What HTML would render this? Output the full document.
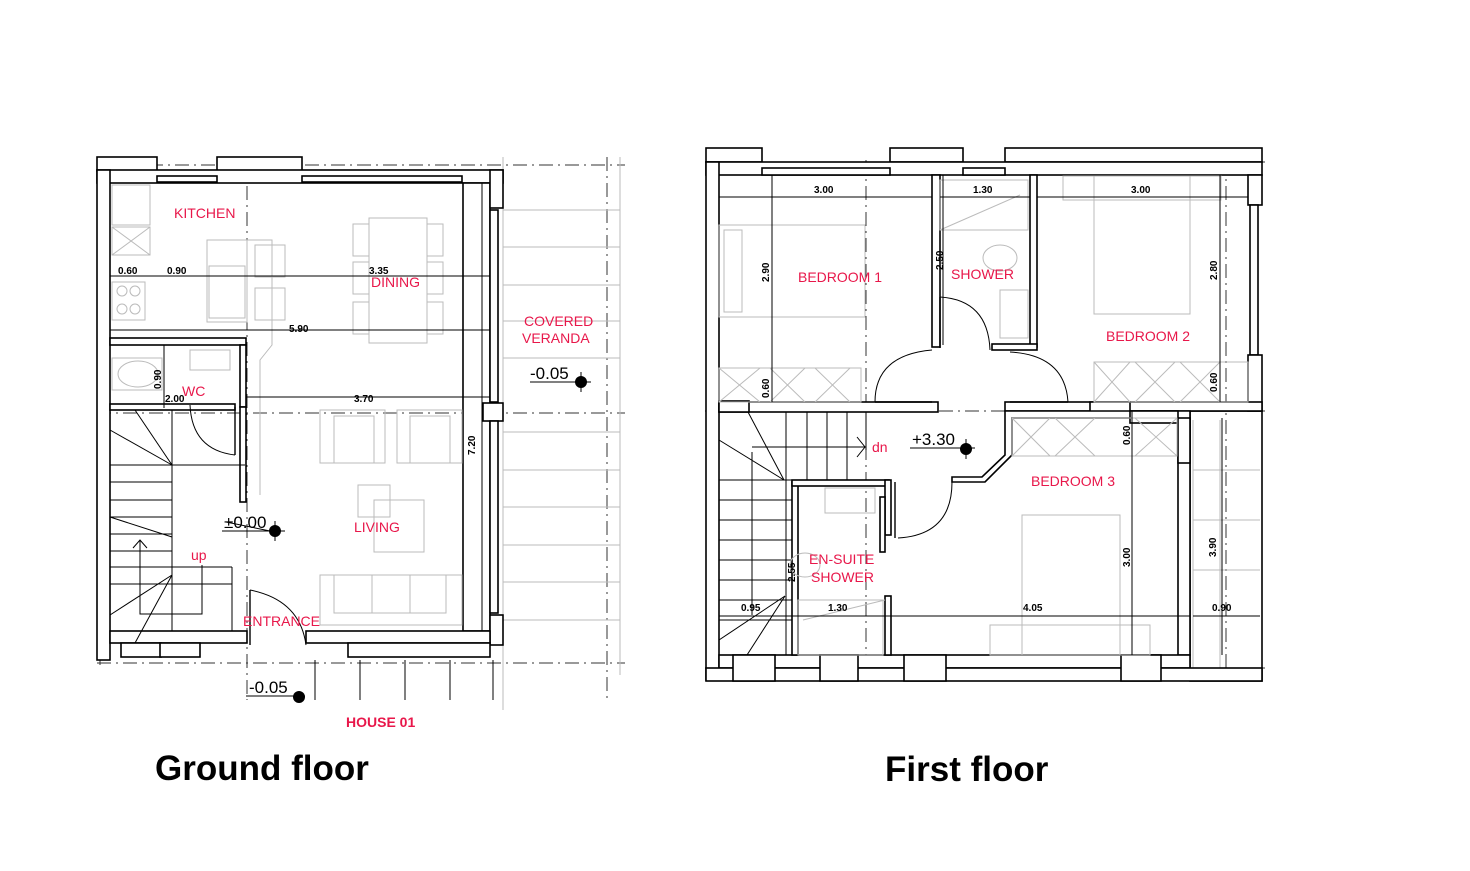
<!DOCTYPE html>
<html><head><meta charset="utf-8"><style>
html,body{margin:0;padding:0;background:#fff;}
svg{display:block}
.w{fill:#fff;stroke:#000;stroke-width:1.6}
.l{stroke:#000;stroke-width:1.4;fill:none}
.t{stroke:#000;stroke-width:1;fill:none}
.g{stroke:#bbb;stroke-width:1;fill:none}
.d{stroke:#333;stroke-width:1;fill:none;stroke-dasharray:14 5 2 5}
.r{fill:#e8174a;font-family:"Liberation Sans",sans-serif;font-size:14px}
.n{fill:#000;font-family:"Liberation Sans",sans-serif;font-size:10px;font-weight:bold}
.lv{fill:#000;font-family:"Liberation Sans",sans-serif;font-size:17px}
</style></head><body>
<svg width="1470" height="871" viewBox="0 0 1470 871" xmlns="http://www.w3.org/2000/svg">
<!-- ================= GROUND FLOOR ================= -->
<!-- dashed grid -->
<line class="d" x1="97" y1="165" x2="625" y2="165"/>
<line class="d" x1="97" y1="413" x2="625" y2="413"/>
<line class="d" x1="97" y1="663" x2="625" y2="663"/>
<line class="d" x1="247" y1="160" x2="247" y2="700"/>
<line class="d" x1="607" y1="157" x2="607" y2="700"/>
<line class="d" x1="100" y1="157" x2="100" y2="670"/>
<!-- veranda grid -->
<g class="g">
<line x1="503" y1="157" x2="503" y2="710"/><line x1="620" y1="157" x2="620" y2="675"/>
<line x1="503" y1="210" x2="620" y2="210"/><line x1="503" y1="247" x2="620" y2="247"/>
<line x1="503" y1="285" x2="620" y2="285"/><line x1="503" y1="321" x2="620" y2="321"/>
<line x1="503" y1="358" x2="620" y2="358"/><line x1="503" y1="432" x2="620" y2="432"/>
<line x1="503" y1="470" x2="620" y2="470"/><line x1="503" y1="507" x2="620" y2="507"/>
<line x1="503" y1="545" x2="620" y2="545"/><line x1="503" y1="582" x2="620" y2="582"/>
<line x1="503" y1="620" x2="620" y2="620"/>
</g>
<!-- walls -->
<rect class="w" x="97" y="157" width="60" height="14"/>
<rect class="w" x="217" y="157" width="85" height="14"/>
<rect class="w" x="97" y="170" width="406" height="13"/>
<rect class="w" x="157" y="176" width="60" height="6"/>
<rect class="w" x="302" y="176" width="160" height="6"/>
<rect class="w" x="97" y="170" width="13" height="490"/>
<rect class="w" x="463" y="183" width="27" height="448"/>
<rect class="w" x="490" y="170" width="13" height="38"/>
<rect class="w" x="490" y="615" width="13" height="30"/>
<rect class="w" x="483" y="403" width="20" height="18"/>
<rect class="w" x="490" y="210" width="8" height="192"/>
<rect class="w" x="490" y="421" width="8" height="192"/>
<rect class="w" x="110" y="631" width="137" height="12"/>
<rect class="w" x="306" y="631" width="184" height="12"/>
<rect class="w" x="121" y="643" width="40" height="14"/>
<rect class="w" x="160" y="643" width="40" height="14"/>
<rect class="w" x="348" y="643" width="142" height="14"/>
<rect class="w" x="110" y="338" width="136" height="7"/>
<rect class="w" x="240" y="345" width="6" height="62"/>
<rect class="w" x="110" y="404" width="125" height="6"/>
<rect class="w" x="240" y="407" width="6" height="95"/>
<!-- steps near entrance -->
<g class="t"><line x1="315" y1="660" x2="315" y2="700"/><line x1="360" y1="660" x2="360" y2="700"/><line x1="405" y1="660" x2="405" y2="700"/><line x1="450" y1="660" x2="450" y2="700"/><line x1="493" y1="660" x2="493" y2="700"/></g>
<!-- doors -->
<path class="t" d="M190 405 Q192 450 235 455"/><line class="l" x1="235" y1="407" x2="235" y2="455"/>
<path class="t" d="M250 590 Q300 600 306 645"/><line class="l" x1="250" y1="590" x2="250" y2="645"/>
<!-- stairs -->
<g class="t">
<line x1="110" y1="465" x2="245" y2="465"/><line x1="110" y1="482" x2="172" y2="482"/>
<line x1="110" y1="500" x2="172" y2="500"/><line x1="110" y1="517" x2="172" y2="517"/>
<line x1="110" y1="534" x2="172" y2="534"/><line x1="110" y1="551" x2="172" y2="551"/>
<line x1="110" y1="567" x2="232" y2="567"/><line x1="110" y1="584" x2="232" y2="584"/>
<line x1="172" y1="410" x2="172" y2="631"/><line x1="232" y1="567" x2="232" y2="631"/>
<line x1="110" y1="430" x2="172" y2="465"/><line x1="110" y1="517" x2="172" y2="537"/>
<line x1="110" y1="615" x2="172" y2="575"/><line x1="135" y1="643" x2="172" y2="575"/>
<line x1="135" y1="410" x2="172" y2="465"/>
<path d="M140 540 V614 H202 V565"/><path d="M133 548 L140 540 L147 548"/>
</g>
<!-- kitchen furniture -->
<g class="g">
<rect x="112" y="185" width="38" height="40"/><rect x="112" y="227" width="38" height="28"/>
<line x1="112" y1="227" x2="150" y2="255"/><line x1="150" y1="227" x2="112" y2="255"/>
<rect x="112" y="282" width="33" height="38"/><circle cx="122" cy="291" r="5"/><circle cx="135" cy="291" r="5"/><circle cx="122" cy="309" r="5"/><circle cx="135" cy="309" r="5"/>
<rect x="207" y="240" width="40" height="82"/><rect x="209" y="266" width="36" height="52"/>
<path d="M247 240 H272 V345 L260 360 V495"/>
<rect x="255" y="245" width="30" height="32"/><rect x="255" y="288" width="30" height="32"/>
<rect x="369" y="218" width="58" height="125"/>
<rect x="353" y="224" width="16" height="32"/><rect x="353" y="262" width="16" height="32"/><rect x="353" y="302" width="16" height="32"/>
<rect x="427" y="224" width="16" height="32"/><rect x="427" y="262" width="16" height="32"/><rect x="427" y="302" width="16" height="32"/>
<rect x="112" y="358" width="50" height="32"/><ellipse cx="138" cy="374" rx="20" ry="13"/>
<rect x="190" y="350" width="40" height="20"/>
<rect x="320" y="410" width="65" height="53"/><rect x="334" y="416" width="40" height="47"/>
<rect x="397" y="410" width="65" height="53"/><rect x="410" y="416" width="40" height="47"/>
<rect x="358" y="485" width="32" height="32"/><rect x="374" y="500" width="50" height="52"/>
<rect x="320" y="575" width="142" height="50"/><rect x="334" y="575" width="112" height="38"/>
<line x1="372" y1="575" x2="372" y2="613"/><line x1="410" y1="575" x2="410" y2="613"/>
</g>
<!-- dimension lines -->
<g class="t">
<line x1="110" y1="276" x2="490" y2="276"/>
<line x1="110" y1="330" x2="490" y2="330"/>
<line x1="246" y1="397" x2="490" y2="397"/>
<line x1="164" y1="345" x2="164" y2="408"/>
<line x1="482" y1="183" x2="482" y2="631"/>
<line x1="226" y1="522" x2="275" y2="532"/>
</g>
<text class="n" x="118" y="274">0.60</text><text class="n" x="167" y="274">0.90</text>
<text class="n" x="369" y="274">3.35</text><text class="n" x="289" y="332">5.90</text>
<text class="n" x="354" y="402">3.70</text><text class="n" x="165" y="402">2.00</text>
<text class="n" transform="translate(161 389) rotate(-90)">0.90</text>
<text class="n" transform="translate(475 455) rotate(-90)">7.20</text>
<text class="r" x="174" y="218">KITCHEN</text>
<text class="r" x="371" y="287">DINING</text>
<text class="r" x="182" y="396">WC</text>
<text class="r" x="354" y="532">LIVING</text>
<text class="r" x="191" y="560">up</text>
<text class="r" x="243" y="626">ENTRANCE</text>
<text class="r" x="524" y="326">COVERED</text>
<text class="r" x="522" y="343">VERANDA</text>
<text class="r" x="346" y="727" font-weight="bold" font-size="13">HOUSE 01</text>
<text class="lv" x="224" y="528">±0.00</text><line class="t" x1="222" y1="531" x2="285" y2="531"/>
<circle cx="275" cy="531" r="6" fill="#000"/><line class="t" x1="275" y1="521" x2="275" y2="541"/>
<text class="lv" x="530" y="379">-0.05</text><line class="t" x1="530" y1="382" x2="591" y2="382"/>
<circle cx="581" cy="382" r="6" fill="#000"/><line class="t" x1="581" y1="372" x2="581" y2="392"/>
<text class="lv" x="249" y="693">-0.05</text><line class="t" x1="246" y1="696" x2="305" y2="696"/>
<circle cx="299" cy="697" r="6" fill="#000"/>
<text x="155" y="780" font-family="Liberation Sans,sans-serif" font-size="35" font-weight="bold">Ground floor</text>

<!-- ================= FIRST FLOOR ================= -->
<line class="d" x1="705" y1="162" x2="1265" y2="162"/>
<line class="d" x1="705" y1="411" x2="1265" y2="411"/>
<line class="d" x1="705" y1="668" x2="1265" y2="668"/>
<line class="d" x1="866" y1="160" x2="866" y2="680"/>
<line class="d" x1="1226" y1="160" x2="1226" y2="680"/>
<line class="d" x1="709" y1="160" x2="709" y2="680"/>
<!-- balcony -->
<g class="g"><line x1="1193" y1="420" x2="1193" y2="680"/><line x1="1220" y1="420" x2="1220" y2="680"/>
<line x1="1193" y1="470" x2="1260" y2="470"/><line x1="1193" y1="520" x2="1260" y2="520"/><line x1="1193" y1="570" x2="1260" y2="570"/></g>
<rect class="w" x="1190" y="411" width="72" height="270" style="fill:none"/>
<!-- walls -->
<rect class="w" x="706" y="148" width="56" height="14"/>
<rect class="w" x="890" y="148" width="73" height="14"/>
<rect class="w" x="1005" y="148" width="257" height="14"/>
<rect class="w" x="706" y="162" width="556" height="13"/>
<rect class="w" x="762" y="168" width="128" height="7"/><rect class="w" x="963" y="168" width="42" height="7"/>
<rect class="w" x="706" y="162" width="13" height="518"/>
<rect class="w" x="1248" y="175" width="14" height="30"/>
<rect class="w" x="1250" y="205" width="8" height="150"/>
<rect class="w" x="1248" y="355" width="14" height="56"/>
<rect class="w" x="719" y="402" width="219" height="10"/>
<rect class="w" x="719" y="401" width="30" height="11"/>
<rect class="w" x="1005" y="402" width="257" height="9"/>
<rect class="w" x="1090" y="402" width="40" height="10"/>
<rect class="w" x="932" y="175" width="8" height="172"/>
<rect class="w" x="1030" y="175" width="7" height="172"/>
<rect class="w" x="992" y="344" width="45" height="6"/>
<path class="w" d="M1005 411 H1190 V655 H1178 V418 H1012 V455 L985 482 H952 V477 H982 L1005 455 Z"/>
<rect class="w" x="1130" y="411" width="48" height="12"/>
<rect class="w" x="1178" y="418" width="12" height="45"/>
<rect class="w" x="719" y="655" width="471" height="13"/>
<rect class="w" x="706" y="668" width="556" height="13"/>
<rect class="w" x="733" y="655" width="42" height="26"/><rect class="w" x="820" y="655" width="38" height="26"/><rect class="w" x="904" y="655" width="42" height="26"/><rect class="w" x="1121" y="655" width="40" height="26"/>
<!-- en-suite -->
<rect class="w" x="792" y="482" width="6" height="173"/>
<rect class="w" x="792" y="480" width="97" height="6"/>
<rect class="w" x="885" y="480" width="6" height="55"/>
<rect class="w" x="880" y="497" width="5" height="55"/>
<rect class="w" x="885" y="596" width="6" height="59"/>
<!-- stairs -->
<g class="t">
<line x1="786" y1="412" x2="786" y2="480"/><line x1="807" y1="412" x2="807" y2="480"/><line x1="827" y1="412" x2="827" y2="480"/><line x1="847" y1="412" x2="847" y2="480"/><line x1="866" y1="412" x2="866" y2="450"/>
<line x1="752" y1="447" x2="866" y2="447"/><line x1="752" y1="452" x2="752" y2="615"/>
<line x1="719" y1="480" x2="792" y2="480"/><line x1="719" y1="500" x2="792" y2="500"/><line x1="719" y1="520" x2="792" y2="520"/><line x1="719" y1="540" x2="792" y2="540"/><line x1="719" y1="560" x2="792" y2="560"/><line x1="719" y1="580" x2="792" y2="580"/><line x1="719" y1="600" x2="792" y2="600"/><line x1="719" y1="620" x2="792" y2="620"/>
<line x1="719" y1="440" x2="784" y2="480"/><line x1="748" y1="412" x2="784" y2="480"/>
<line x1="719" y1="640" x2="785" y2="596"/><line x1="747" y1="655" x2="785" y2="596"/>
<path d="M857 437 L865 447 L857 457"/>
</g>
<!-- doors -->
<path class="t" d="M875 402 Q875 355 932 350"/><line class="l" x1="875" y1="402" x2="932" y2="402"/>
<path class="t" d="M1068 402 Q1065 355 1010 352"/><line class="l" x1="1010" y1="402" x2="1068" y2="402"/>
<path class="t" d="M940 297 Q988 300 990 350"/><line class="l" x1="940" y1="297" x2="940" y2="348"/>
<path class="t" d="M952 482 Q952 535 898 538"/><line class="l" x1="895" y1="482" x2="895" y2="538"/>
<!-- furniture -->
<g class="g">
<rect x="719" y="225" width="146" height="92"/><rect x="724" y="230" width="18" height="82"/>
<rect x="719" y="368" width="142" height="34"/>
<path d="M719 368 L760 402 M760 368 L719 402 M770 368 L805 402 M805 368 L770 402 M815 368 L850 402 M850 368 L815 402"/>
<rect x="1094" y="176" width="96" height="138"/><rect x="1063" y="176" width="158" height="24"/>
<rect x="1094" y="362" width="154" height="40"/>
<path d="M1094 362 L1130 402 M1130 362 L1094 402 M1135 362 L1175 402 M1175 362 L1135 402 M1180 362 L1220 402 M1220 362 L1180 402"/>
<rect x="1012" y="418" width="165" height="38"/>
<path d="M1012 418 L1050 456 M1050 418 L1012 456 M1055 418 L1095 456 M1095 418 L1055 456 M1135 418 L1177 456 M1177 418 L1135 456"/>
<rect x="1022" y="515" width="98" height="140"/><rect x="990" y="625" width="160" height="30"/>
<rect x="940" y="180" width="88" height="50"/><line x1="940" y1="230" x2="1020" y2="195"/>
<ellipse cx="1000" cy="258" rx="17" ry="13"/><rect x="1000" y="290" width="28" height="48"/>
<rect x="825" y="488" width="50" height="25"/><ellipse cx="805" cy="565" rx="15" ry="12"/>
<rect x="798" y="600" width="85" height="55"/><line x1="803" y1="620" x2="885" y2="600"/>
</g>
<!-- dimensions -->
<g class="t">
<line x1="719" y1="197" x2="932" y2="197"/><line x1="940" y1="197" x2="1030" y2="197"/><line x1="1037" y1="197" x2="1248" y2="197"/>
<line x1="772" y1="175" x2="772" y2="402"/><line x1="943" y1="175" x2="943" y2="345"/>
<line x1="1220" y1="175" x2="1220" y2="402"/><line x1="1132" y1="411" x2="1132" y2="655"/>
<line x1="1222" y1="418" x2="1222" y2="655"/><line x1="786" y1="480" x2="786" y2="655"/>
<line x1="719" y1="616" x2="1190" y2="616"/><line x1="1193" y1="616" x2="1260" y2="616"/>
</g>
<text class="n" x="814" y="193">3.00</text><text class="n" x="973" y="193">1.30</text><text class="n" x="1131" y="193">3.00</text>
<text class="n" x="741" y="611">0.95</text><text class="n" x="828" y="611">1.30</text><text class="n" x="1023" y="611">4.05</text><text class="n" x="1212" y="611">0.90</text>
<text class="n" transform="translate(769 282) rotate(-90)">2.90</text>
<text class="n" transform="translate(943 270) rotate(-90)">2.50</text>
<text class="n" transform="translate(1217 280) rotate(-90)">2.80</text>
<text class="n" transform="translate(769 398) rotate(-90)">0.60</text>
<text class="n" transform="translate(1217 392) rotate(-90)">0.60</text>
<text class="n" transform="translate(1130 445) rotate(-90)">0.60</text>
<text class="n" transform="translate(1130 567) rotate(-90)">3.00</text>
<text class="n" transform="translate(1216 557) rotate(-90)">3.90</text>
<text class="n" transform="translate(795 582) rotate(-90)">2.55</text>
<text class="r" x="798" y="282">BEDROOM 1</text>
<text class="r" x="951" y="279">SHOWER</text>
<text class="r" x="1106" y="341">BEDROOM 2</text>
<text class="r" x="1031" y="486">BEDROOM 3</text>
<text class="r" x="809" y="564">EN-SUITE</text>
<text class="r" x="811" y="582">SHOWER</text>
<text class="r" x="872" y="452">dn</text>
<text class="lv" x="912" y="445">+3.30</text><line class="t" x1="910" y1="448" x2="975" y2="448"/>
<circle cx="966" cy="449" r="6" fill="#000"/><line class="t" x1="966" y1="439" x2="966" y2="459"/>
<text x="885" y="781" font-family="Liberation Sans,sans-serif" font-size="35" font-weight="bold">First floor</text>
</svg>
</body></html>
